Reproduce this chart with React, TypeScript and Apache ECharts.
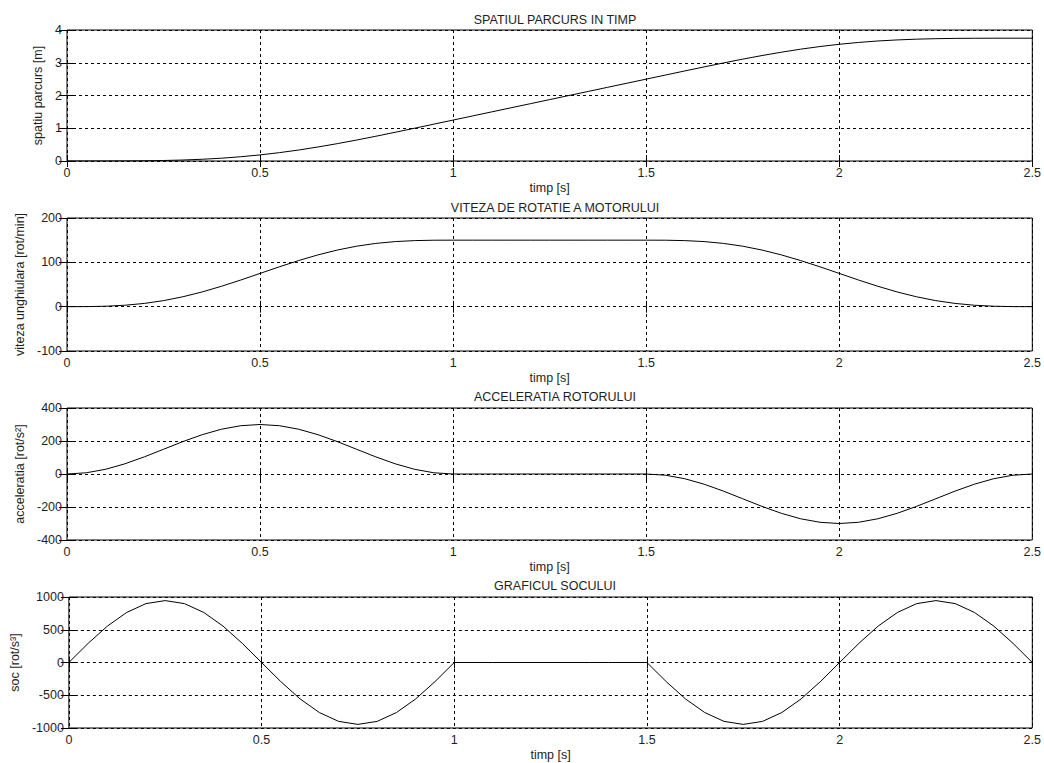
import React, { useEffect, useRef } from "react";
import * as echarts from "echarts";

const timp = [0, 0.05, 0.1, 0.15, 0.2, 0.25, 0.3, 0.35, 0.4, 0.45, 0.5, 0.55, 0.6, 0.65, 0.7, 0.75, 0.8, 0.85, 0.9, 0.95, 1.0, 1.05, 1.1, 1.15, 1.2, 1.25, 1.3, 1.35, 1.4, 1.45, 1.5, 1.55, 1.6, 1.65, 1.7, 1.75, 1.8, 1.85, 1.9, 1.95, 2.0, 2.05, 2.1, 2.15, 2.2, 2.25, 2.3, 2.35, 2.4, 2.45, 2.5];

const spatiu = [0, 0, 0.0004, 0.002, 0.006, 0.015, 0.03, 0.053, 0.085, 0.13, 0.186, 0.255, 0.335, 0.428, 0.53, 0.64, 0.756, 0.877, 1.0, 1.125, 1.25, 1.375, 1.5, 1.625, 1.75, 1.875, 2.0, 2.125, 2.25, 2.375, 2.5, 2.625, 2.75, 2.873, 2.994, 3.11, 3.22, 3.322, 3.415, 3.495, 3.564, 3.62, 3.665, 3.697, 3.72, 3.735, 3.744, 3.748, 3.75, 3.75, 3.75];

const viteza = [0, 0.1, 1.0, 3.2, 7.3, 13.6, 22.3, 33.2, 46.0, 60.1, 75, 89.9, 104.0, 116.8, 127.7, 136.4, 142.7, 146.8, 149.0, 149.9, 150, 150, 150, 150, 150, 150, 150, 150, 150, 150, 150, 149.9, 149.0, 146.8, 142.7, 136.4, 127.7, 116.8, 104.0, 89.9, 75, 60.1, 46.0, 33.2, 22.3, 13.6, 7.3, 3.2, 1.0, 0.1, 0];

const acceleratie = [0, 7.3, 28.6, 61.8, 103.6, 150, 196.4, 238.2, 271.4, 292.7, 300, 292.7, 271.4, 238.2, 196.4, 150, 103.6, 61.8, 28.6, 7.3, 0, 0, 0, 0, 0, 0, 0, 0, 0, 0, 0, -7.3, -28.6, -61.8, -103.6, -150, -196.4, -238.2, -271.4, -292.7, -300, -292.7, -271.4, -238.2, -196.4, -150, -103.6, -61.8, -28.6, -7.3, 0];

const soc = [0, 292, 556, 764, 899, 945, 899, 764, 556, 292, 0, -292, -556, -764, -899, -945, -899, -764, -556, -292, 0, 0, 0, 0, 0, 0, 0, 0, 0, 0, 0, -292, -556, -764, -899, -945, -899, -764, -556, -292, 0, 292, 556, 764, 899, 945, 899, 764, 556, 292, 0];

const titles = ["SPATIUL PARCURS IN TIMP", "VITEZA DE ROTATIE A MOTORULUI", "ACCELERATIA ROTORULUI", "GRAFICUL SOCULUI"];
const yNames = ["spatiu parcurs [m]", "viteza unghiulara [rot/min]", "acceleratia [rot/s²]", "soc [rot/s³]"];
const xName = "timp [s]";
const yMins = [0, -100, -400, -1000];
const yMaxs = [4, 200, 400, 1000];
const yIntervals = [1, 100, 200, 500];
const xTicks = { min: 0, max: 2.5, interval: 0.5 };

const FONT = "'Liberation Sans', Arial, sans-serif";
const TXT = "#1e1e1e";
const FS = 12.5;

export default function App() {
  const ref = useRef<HTMLDivElement>(null);
  useEffect(() => {
    if (!ref.current) return;
    const chart = echarts.init(ref.current, undefined, { renderer: "svg" });
    const seriesData = [spatiu, viteza, acceleratie, soc];
    const gridTops = [30, 218, 408, 597];
    const gridHeights = [131, 133, 132, 131];
    const titleTops = [8, 196, 385, 574];
    const nameGaps = [15, 37, 37, 40];
    const fmt = (v: number) => String(v);

    const grid: any[] = [];
    const xAxis: any[] = [];
    const yAxis: any[] = [];
    const series: any[] = [];
    const title: any[] = [];

    for (let i = 0; i < 4; i++) {
      grid.push({
        left: 67,
        width: 966,
        top: gridTops[i],
        height: gridHeights[i],
        show: true,
        borderColor: "#000",
        borderWidth: 1,
        backgroundColor: "#fff",
      });
      title.push({
        text: titles[i],
        left: 550,
        top: titleTops[i],
        textAlign: "center",
        textStyle: { fontFamily: FONT, fontSize: FS, fontWeight: "normal", color: TXT },
      });
      xAxis.push({
        type: "value",
        gridIndex: i,
        position: "bottom",
        min: xTicks.min,
        max: xTicks.max,
        interval: xTicks.interval,
        name: xName,
        nameLocation: "middle",
        nameGap: 20,
        nameTextStyle: { fontFamily: FONT, fontSize: FS, color: TXT },
        axisLine: { show: false },
        axisTick: { show: true, inside: true, length: 6, lineStyle: { color: "#000" } },
        axisLabel: { fontFamily: FONT, fontSize: FS, color: TXT, margin: 5, formatter: fmt },
        splitLine: { show: true, lineStyle: { color: "#000", type: [3, 3], width: 1 } },
      });
      xAxis.push({
        type: "value",
        gridIndex: i,
        position: "top",
        min: xTicks.min,
        max: xTicks.max,
        interval: xTicks.interval,
        axisLine: { show: false },
        axisTick: { show: true, inside: true, length: 6, lineStyle: { color: "#000" } },
        axisLabel: { show: false },
        splitLine: { show: false },
      });
      yAxis.push({
        type: "value",
        gridIndex: i,
        position: "left",
        min: yMins[i],
        max: yMaxs[i],
        interval: yIntervals[i],
        name: yNames[i],
        nameLocation: "middle",
        nameGap: nameGaps[i],
        nameRotate: 90,
        nameTextStyle: { fontFamily: FONT, fontSize: FS, color: TXT },
        axisLine: { show: false },
        axisTick: { show: true, inside: true, length: 8, lineStyle: { color: "#000" } },
        axisLabel: { fontFamily: FONT, fontSize: FS, color: TXT, margin: 5, formatter: fmt },
        splitLine: { show: true, lineStyle: { color: "#000", type: [3, 3], width: 1 } },
      });
      yAxis.push({
        type: "value",
        gridIndex: i,
        position: "right",
        min: yMins[i],
        max: yMaxs[i],
        interval: yIntervals[i],
        axisLine: { show: false },
        axisTick: { show: true, inside: true, length: 8, lineStyle: { color: "#000" } },
        axisLabel: { show: false },
        splitLine: { show: false },
      });
      series.push({
        type: "line",
        xAxisIndex: 2 * i,
        yAxisIndex: 2 * i,
        data: timp.map((t, k) => [t, seriesData[i][k]]),
        showSymbol: false,
        symbol: "none",
        lineStyle: { color: "#000", width: 1 },
        silent: true,
      });
    }

    chart.setOption({
      animation: false,
      backgroundColor: "#fff",
      title,
      grid,
      xAxis,
      yAxis,
      series,
    });
    return () => chart.dispose();
  }, []);

  return (
    <div
      ref={ref}
      style={{ position: "fixed", left: 0, top: 0, width: 1044, height: 763, background: "#fff" }}
    />
  );
}
